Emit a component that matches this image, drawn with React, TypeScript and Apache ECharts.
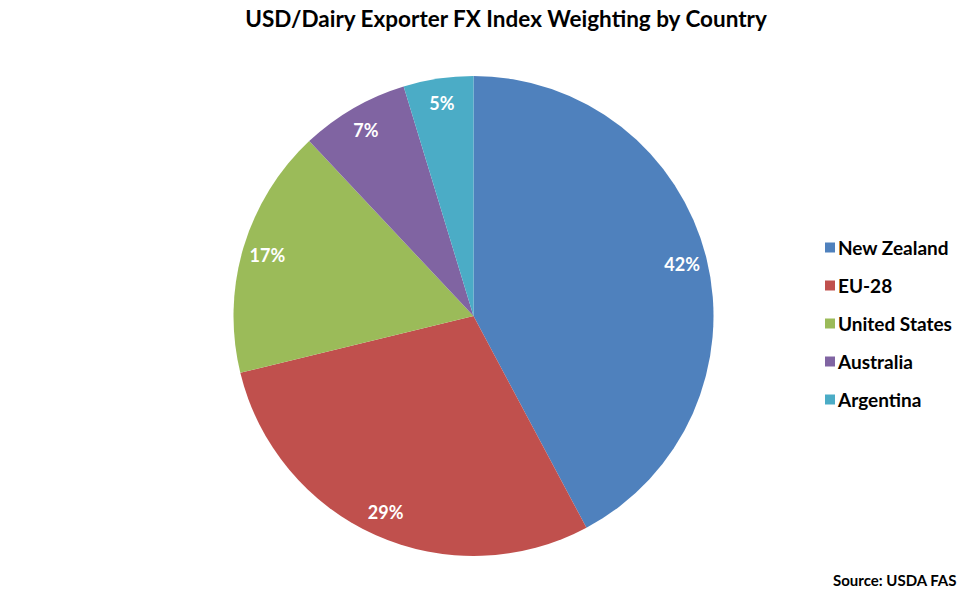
import React, { useEffect, useRef } from "react";
import * as echarts from "echarts";

const countries = ["New Zealand", "EU-28", "United States", "Australia", "Argentina"];
const weights = [42.2, 29.0, 16.8, 7.3, 4.7];
const colors = ["#4F81BD", "#C0504D", "#9BBB59", "#8064A2", "#4BACC6"];
const titleText = "USD/Dairy Exporter FX Index Weighting by Country";
const sourceText = "Source: USDA FAS";

const FONT = "Lato, 'Noto Sans', sans-serif";

export default function App() {
  const ref = useRef<HTMLDivElement>(null);
  useEffect(() => {
    if (!ref.current) return;
    const chart = echarts.init(ref.current, null, { renderer: "svg" });
    const data = countries.map((name, i) => ({
      name,
      value: weights[i],
      itemStyle: { color: colors[i] },
    }));
    chart.setOption({
      animation: false,
      backgroundColor: "#ffffff",
      title: {
        text: titleText,
        left: 501,
        textAlign: "center",
        top: 2,
        textStyle: { fontFamily: FONT, fontSize: 22.5, fontWeight: "bold", color: "#000" },
      },
      legend: {
        orient: "vertical",
        left: 820,
        top: 233,
        itemWidth: 10,
        itemHeight: 10,
        itemGap: 19,
        icon: "rect",
        data: countries,
        textStyle: { fontFamily: FONT, fontSize: 19, fontWeight: "bold", color: "#000", padding: [0, 0, 0, -2] },
      },
      graphic: [
        {
          type: "text",
          right: 18,
          bottom: 13,
          style: { text: sourceText, fontFamily: FONT, fontSize: 15, fontWeight: "bold", fill: "#000" },
        },
      ],
      series: [
        {
          type: "pie",
          center: [473.5, 316],
          radius: [0, 240],
          startAngle: 90,
          clockwise: true,
          data,
          label: { show: false },
          labelLine: { show: false },
          emphasis: { disabled: true },
          silent: true,
        },
        {
          type: "pie",
          center: [473.5, 316],
          radius: [184, 240],
          startAngle: 90,
          clockwise: true,
          data: countries.map((name, i) => ({ name, value: weights[i] })),
          itemStyle: { color: "rgba(0,0,0,0)" },
          label: {
            show: true,
            position: "inside",
            formatter: (p: any) => Math.round(p.value) + "%",
            color: "#fff",
            fontFamily: FONT,
            fontSize: 18,
            fontWeight: "bold",
          },
          labelLine: { show: false },
          emphasis: { disabled: true },
          silent: true,
          legendHoverLink: false,
        },
      ],
    });
    return () => chart.dispose();
  }, []);
  return (
    <div
      ref={ref}
      style={{ position: "fixed", left: 0, top: 0, width: 975, height: 600 }}
    />
  );
}
